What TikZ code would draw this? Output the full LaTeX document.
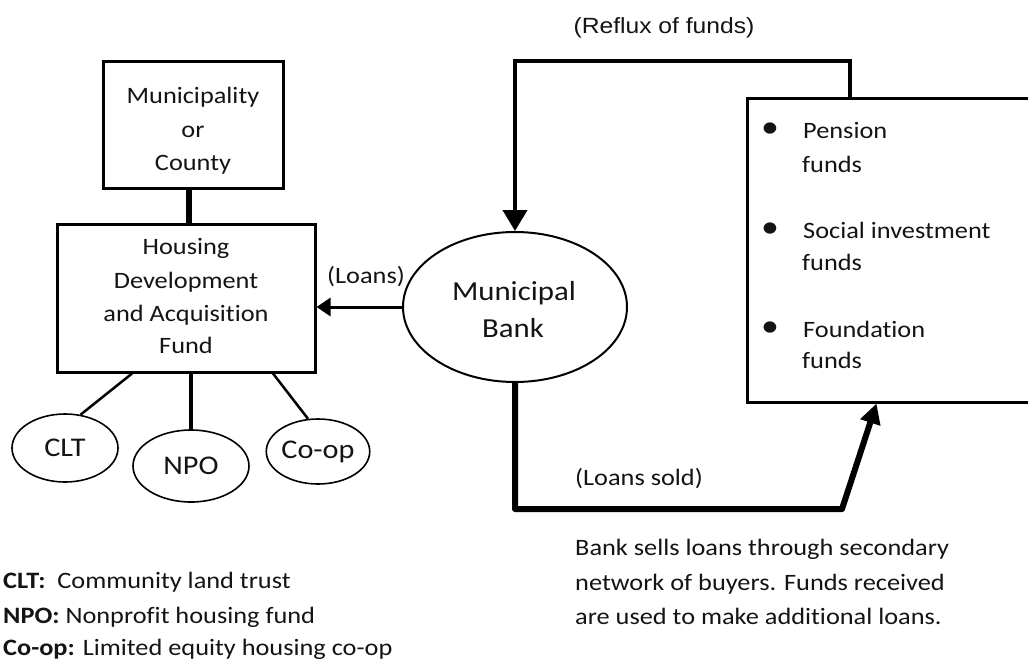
\documentclass[tikz,border=0pt]{standalone}
\usepackage{fontspec}
\setmainfont{Carlito}[FakeStretch=1.12, Ligatures=NoCommon]
\newfontfamily\refluxfont{Liberation Sans}[FakeStretch=1.12]
\usetikzlibrary{shapes.geometric,arrows.meta}
\definecolor{ink}{HTML}{141414}
\begin{document}
\begin{tikzpicture}[x=1pt,y=-1pt,
  txt/.style={font=\fontsize{23.5}{33}\selectfont, text=ink, inner sep=0pt},
  banktxt/.style={font=\fontsize{27.5}{33}\selectfont, text=ink, inner sep=0pt},
  bullettxt/.style={font=\fontsize{32}{32}\selectfont, text=ink, inner sep=0pt},
  box/.style={draw=black, line width=3pt, rectangle, inner sep=0pt},
  oval/.style={draw=black, line width=1.6pt, ellipse, inner sep=0pt, text=ink,
    font=\fontsize{27}{30}\selectfont},
  bankoval/.style={draw=black, line width=2pt, ellipse, inner sep=0pt},
  thinlink/.style={draw=black, line width=2.5pt},
]
\useasboundingbox (0,0) rectangle (1028,662);
\fill[white] (0,0) rectangle (1028,662);
\clip (0,0) rectangle (1028,662);

% shapes
\node[box, minimum width=180pt, minimum height=127pt] (muni) at (193,124.5) {};
\node[box, minimum width=258pt, minimum height=148pt] (housing) at (186,298) {};
\node[oval, minimum width=106pt, minimum height=68pt] (clt) at (65,448) {CLT};
\node[oval, minimum width=116pt, minimum height=72pt] (npo) at (191,466) {NPO};
\node[oval, minimum width=102pt, minimum height=65pt] (coop) at (318,451.5) {Co-op};
\node[bankoval, minimum width=224pt, minimum height=150pt] (bank) at (515,307) {};
\node[box, minimum width=293pt, minimum height=304pt] (fund) at (893.5,250) {};
\coordinate (soldbend) at (842,509);

% box texts
\node[txt, anchor=base] (m1) at (193,103) {Municipality};
\node[txt, anchor=base] (m2) at (193,137) {or};
\node[txt, anchor=base] (m3) at (193,170) {County};
\node[txt, anchor=base] (h1) at (186,254) {Housing};
\node[txt, anchor=base] (h2) at (186,288) {Development};
\node[txt, anchor=base] (h3) at (186,321) {and Acquisition};
\node[txt, anchor=base] (h4) at (186,353) {Fund};
\node[banktxt, anchor=base] (k1) at (514,300) {Municipal};
\node[banktxt, anchor=base] (k2) at (513,337) {Bank};

% fund list
\node[bullettxt] (d1) at (770,130) {\textbullet};
\node[txt, anchor=base west] (f1) at (803,138) {Pension};
\node[txt, anchor=base west] (f2) at (802,172) {funds};
\node[bullettxt] (d2) at (770,230) {\textbullet};
\node[txt, anchor=base west] (f3) at (803,238) {Social investment};
\node[txt, anchor=base west] (f4) at (802,270) {funds};
\node[bullettxt] (d3) at (770,329) {\textbullet};
\node[txt, anchor=base west] (f5) at (803,337) {Foundation};
\node[txt, anchor=base west] (f6) at (802,368) {funds};

% connectors
\draw[line width=6pt] ([xshift=-4pt]muni.south) -- ([xshift=-4pt]muni.south |- housing.north);
\draw[thinlink] ([xshift=-54pt]housing.south) -- (clt.65);
\draw[thinlink] ([xshift=87pt]housing.south) -- (coop.107);
\draw[line width=4.5pt] (npo.north |- housing.south) -- (npo.north);
\draw[line width=3pt, -{Triangle[length=14pt,width=18pt]}] (bank.west) -- (bank.west -| housing.east);
\draw[line width=4pt, -{Triangle[length=21pt,width=24pt]}]
  ([xshift=104pt]fund.north west) -- ++(0,-36) -| (bank.north);
\draw[line width=6pt, line join=round, -{Triangle[length=20pt,width=20pt]}]
  (bank.south) |- (soldbend) -- ([xshift=131pt]fund.south west);

% labels
\node[font=\refluxfont\fontsize{22}{26}\selectfont, text=ink, inner sep=0pt, anchor=base] (reflux) at (664,33) {(Reflux of funds)};
\node[txt, anchor=base west] (loans) at (327,283) {(Loans)};
\node[txt, anchor=base west] (sold) at (575,485) {(Loans sold)};
\node[txt, anchor=base west] (n1) at (575,555) {Bank sells loans through secondary};
\node[txt, anchor=base west] (n2) at (575,590) {network of buyers. Funds received};
\node[txt, anchor=base west] (n3) at (575,624) {are used to make additional loans.};

% legend
\node[txt, anchor=base west] (l1) at (3,588) {\textbf{CLT:}\ \ Community land trust};
\node[txt, anchor=base west] (l2) at (3,623) {\textbf{NPO:} Nonprofit housing fund};
\node[txt, anchor=base west] (l3) at (3,655) {\textbf{Co-op:} Limited equity housing co-op};
\end{tikzpicture}
\end{document}
